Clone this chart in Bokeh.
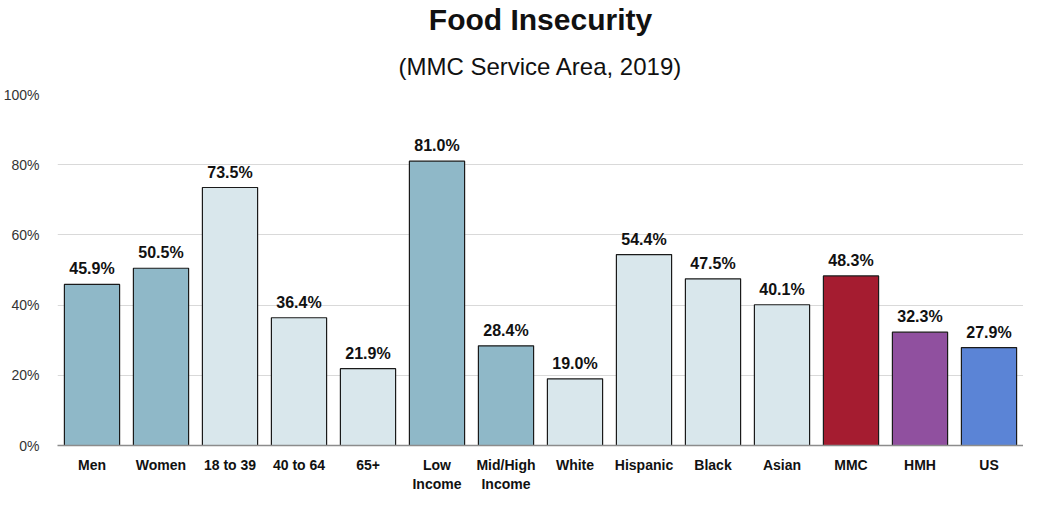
from bokeh.plotting import figure
from bokeh.models import ColumnDataSource, Title, FixedTicker, LabelSet, Range1d, CustomJSTickFormatter
from bokeh.core.properties import value
from bokeh.embed import file_html
from bokeh.resources import INLINE

title = "Food Insecurity"
subtitle = "(MMC Service Area, 2019)"
categories = ["Men", "Women", "18 to 39", "40 to 64", "65+", "Low\nIncome", "Mid/High\nIncome",
              "White", "Hispanic", "Black", "Asian", "MMC", "HMH", "US"]
values = [45.9, 50.5, 73.5, 36.4, 21.9, 81.0, 28.4, 19.0, 54.4, 47.5, 40.1, 48.3, 32.3, 27.9]
colors = ["#8fb8c8", "#8fb8c8", "#d9e7ec", "#d9e7ec", "#d9e7ec", "#8fb8c8", "#8fb8c8",
          "#d9e7ec", "#d9e7ec", "#d9e7ec", "#d9e7ec", "#a51c30", "#90509f", "#5b84d6"]
y_ticks = [0, 20, 40, 60, 80, 100]

FONT = "Liberation Sans"

src = ColumnDataSource(dict(
    cat=categories, val=values, col=colors,
    lab=[f"{v:.1f}%" for v in values],
))

p = figure(x_range=categories, y_range=Range1d(0, 100), width=1023, height=494,
           output_backend="svg", toolbar_location=None,
           min_border_left=55, min_border_right=0, min_border_top=10, min_border_bottom=0)

p.vbar(x="cat", top="val", width=0.8, source=src, fill_color="col",
       line_color="#1a1a1a", line_width=1.2)

labels = LabelSet(x="cat", y="val", text="lab", source=src, text_align="center",
                  text_baseline="bottom", y_offset=7, text_font=value(FONT),
                  text_font_size="16px", text_font_style="bold", text_color="#111111")
p.add_layout(labels)

p.add_layout(Title(text=subtitle, align="center", text_font=FONT,
                   text_font_size="24px", text_font_style="normal", text_color="#111111",
                   standoff=30), "above")
p.add_layout(Title(text=title, align="center", text_font=FONT,
                   text_font_size="30px", text_font_style="bold", text_color="#111111",
                   standoff=0), "above")

p.outline_line_color = None
p.xgrid.grid_line_color = None
p.ygrid.grid_line_color = "#d9d9d9"
p.ygrid.grid_line_width = 1.2
p.ygrid.ticker = FixedTicker(ticks=y_ticks)

p.yaxis.ticker = FixedTicker(ticks=y_ticks)
p.yaxis.formatter = CustomJSTickFormatter(code="return tick + '%';")
p.yaxis.axis_line_color = None
p.yaxis.major_tick_line_color = None
p.yaxis.minor_tick_line_color = None
p.yaxis.major_label_text_font = FONT
p.yaxis.major_label_text_font_size = "14px"
p.yaxis.major_label_text_color = "#333333"
p.yaxis.major_label_standoff = 12

p.xaxis.axis_line_color = "#8c8c8c"
p.xaxis.axis_line_width = 1.5
p.xaxis.major_tick_line_color = None
p.xaxis.minor_tick_line_color = None
p.xaxis.major_label_text_font = FONT
p.xaxis.major_label_text_font_size = "14px"
p.xaxis.major_label_text_font_style = "bold"
p.xaxis.major_label_text_color = "#111111"
p.xaxis.major_label_standoff = 5
p.x_range.range_padding = 0.0

open("out.html", "w").write(file_html(p, INLINE))
